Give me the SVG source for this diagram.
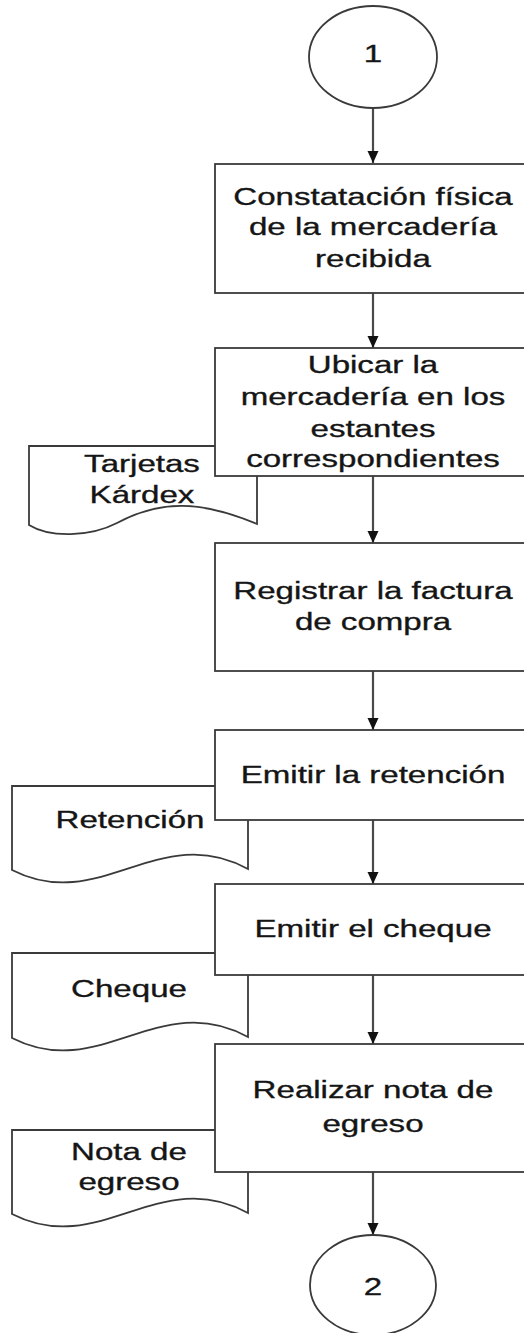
<svg xmlns="http://www.w3.org/2000/svg" width="524" height="1333" viewBox="0 0 524 1333">
<defs>
<style>
.shape{fill:#fff;stroke:#3a3a3a;stroke-width:1.8}
.conn{fill:none;stroke:#4a4a4a;stroke-width:2.2}
.t{font-family:"Liberation Sans",Arial,sans-serif;font-size:24.5px;fill:#151515;stroke:#151515;stroke-width:0.35;text-anchor:middle}
</style>
<marker id="arr" markerUnits="userSpaceOnUse" markerWidth="12" markerHeight="12" viewBox="0 0 12 12" refX="12" refY="6" orient="auto">
<path d="M0,0.5 L12,6 L0,11.5 Z" fill="#111"/>
</marker>
</defs>
<rect width="524" height="1333" fill="#fff"/>

<g id="connectors">
<line class="conn" x1="373" y1="108" x2="373" y2="163" marker-end="url(#arr)"/>
<line class="conn" x1="373" y1="293" x2="373" y2="348" marker-end="url(#arr)"/>
<line class="conn" x1="373" y1="476" x2="373" y2="543" marker-end="url(#arr)"/>
<line class="conn" x1="373" y1="671" x2="373" y2="730" marker-end="url(#arr)"/>
<line class="conn" x1="373" y1="820" x2="373" y2="884" marker-end="url(#arr)"/>
<line class="conn" x1="373" y1="975" x2="373" y2="1044" marker-end="url(#arr)"/>
<line class="conn" x1="373" y1="1172" x2="373" y2="1235" marker-end="url(#arr)"/>
</g>

<g id="start">
<ellipse class="shape" cx="373" cy="57" rx="64" ry="51"/>
<text class="t" transform="translate(373 0) scale(1.35 1)" x="0" y="62">1</text>
</g>

<g id="step1">
<rect class="shape" x="215" y="164" width="330" height="129"/>
<text class="t" transform="translate(373 0) scale(1.35 1)" x="0" y="205">Constatación física</text>
<text class="t" transform="translate(373 0) scale(1.35 1)" x="0" y="235">de la mercadería</text>
<text class="t" transform="translate(373 0) scale(1.35 1)" x="0" y="267">recibida</text>
</g>

<g id="doc-kardex">
<path class="shape" d="M29,446 H257 V524 C 200,500 160,500 117,523 C 90,537 50,538 29,525 Z"/>
<text class="t" transform="translate(142 0) scale(1.35 1)" x="0" y="472">Tarjetas</text>
<text class="t" transform="translate(142 0) scale(1.35 1)" x="0" y="503">Kárdex</text>
</g>

<g id="step2">
<rect class="shape" x="215" y="348" width="330" height="128"/>
<text class="t" transform="translate(373 0) scale(1.35 1)" x="0" y="373">Ubicar la</text>
<text class="t" transform="translate(373 0) scale(1.35 1)" x="0" y="405">mercadería en los</text>
<text class="t" transform="translate(373 0) scale(1.35 1)" x="0" y="437">estantes</text>
<text class="t" transform="translate(373 0) scale(1.35 1)" x="0" y="467">correspondientes</text>
</g>

<g id="step3">
<rect class="shape" x="215" y="543" width="330" height="128"/>
<text class="t" transform="translate(373 0) scale(1.35 1)" x="0" y="599">Registrar la factura</text>
<text class="t" transform="translate(373 0) scale(1.35 1)" x="0" y="630">de compra</text>
</g>

<g id="doc-retencion">
<path class="shape" d="M12,786 H248 V869 C 160,820 100,915 12,870 Z"/>
<text class="t" transform="translate(130 0) scale(1.35 1)" x="0" y="828">Retención</text>
</g>

<g id="step4">
<rect class="shape" x="215" y="730" width="330" height="90"/>
<text class="t" transform="translate(373 0) scale(1.35 1)" x="0" y="783">Emitir la retención</text>
</g>

<g id="doc-cheque">
<path class="shape" d="M12,953 H248 V1037 C 160,988 100,1083 12,1038 Z"/>
<text class="t" transform="translate(129 0) scale(1.35 1)" x="0" y="997">Cheque</text>
</g>

<g id="step5">
<rect class="shape" x="215" y="884" width="330" height="91"/>
<text class="t" transform="translate(373 0) scale(1.35 1)" x="0" y="937">Emitir el cheque</text>
</g>

<g id="doc-nota">
<path class="shape" d="M12,1130 H248 V1213 C 160,1164 100,1259 12,1214 Z"/>
<text class="t" transform="translate(129 0) scale(1.35 1)" x="0" y="1160">Nota de</text>
<text class="t" transform="translate(129 0) scale(1.35 1)" x="0" y="1190">egreso</text>
</g>

<g id="step6">
<rect class="shape" x="215" y="1044" width="330" height="128"/>
<text class="t" transform="translate(373 0) scale(1.35 1)" x="0" y="1098">Realizar nota de</text>
<text class="t" transform="translate(373 0) scale(1.35 1)" x="0" y="1132">egreso</text>
</g>

<g id="end">
<ellipse class="shape" cx="373" cy="1285" rx="63" ry="50"/>
<text class="t" transform="translate(373 0) scale(1.35 1)" x="0" y="1295">2</text>
</g>
</svg>
